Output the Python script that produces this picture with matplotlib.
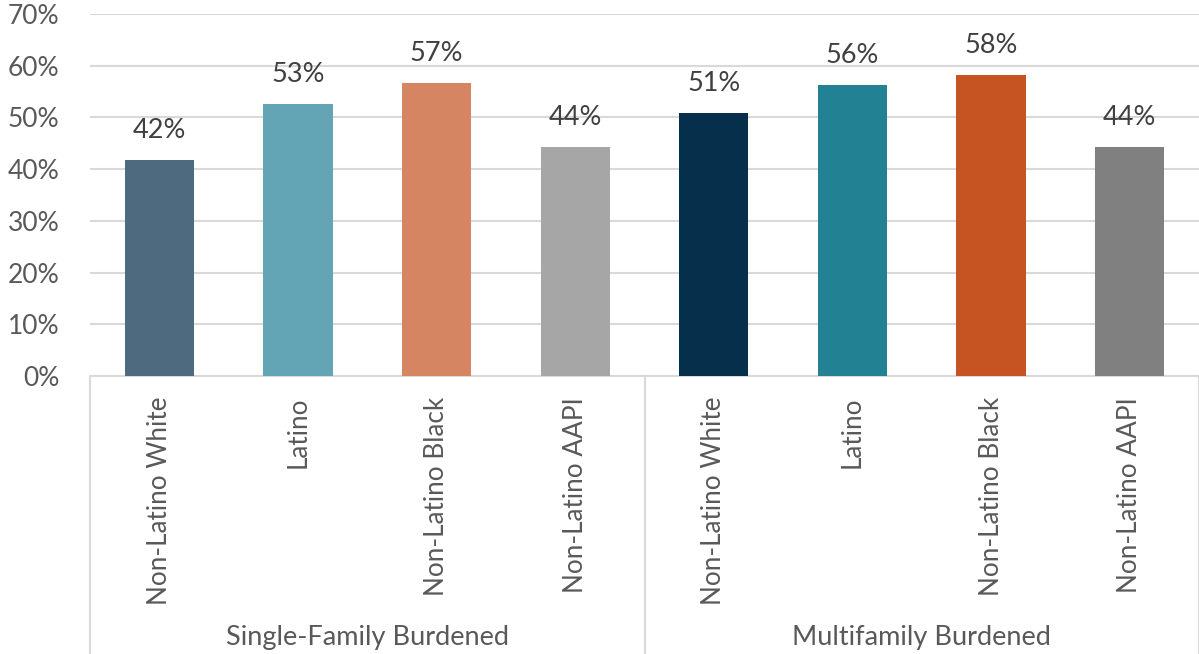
import matplotlib
matplotlib.use("Agg")
import matplotlib.pyplot as plt

plt.rcParams["font.family"] = ["Lato", "DejaVu Sans"]

# data
groups = ["Single-Family Burdened", "Multifamily Burdened"]
categories = ["Non-Latino White", "Latino", "Non-Latino Black", "Non-Latino AAPI"]
single_family = [41.8, 52.6, 56.7, 44.3]
multifamily = [50.9, 56.3, 58.2, 44.3]

SF_COLORS = ["#4D6A7F", "#63A5B5", "#D68563", "#A6A6A6"]
MF_COLORS = ["#062F4C", "#238194", "#C55422", "#808080"]
GRID = "#D9D9D9"
TICK = "#595959"
LABEL = "#404040"

values = single_family + multifamily
colors = SF_COLORS + MF_COLORS
labels = categories + categories
xs = list(range(len(values)))

fig = plt.figure(figsize=(11.99, 6.54), dpi=100)
ax = fig.add_axes([90 / 1199, 1 - 376 / 654, 1 - 90 / 1199, (376 - 14) / 654])

ax.set_axisbelow(True)
bars = ax.bar(xs, values, width=0.5, color=colors, zorder=3)
ax.bar_label(bars, labels=[f"{round(v)}%" for v in values], padding=12,
             fontsize=19.5, color=LABEL)

ax.set_xlim(-0.5, len(values) - 0.5)
ax.set_ylim(0, 70)
ax.set_yticks(range(0, 71, 10))
ax.set_yticklabels([f"{t}%" for t in range(0, 71, 10)], fontsize=19, color=TICK)
ax.yaxis.grid(True, color=GRID, lw=1.5)
ax.tick_params(axis="y", length=0, pad=22)

ax.set_xticks(xs)
ax.set_xticklabels(labels, rotation=90, fontsize=18.8, color=TICK)
ax.tick_params(axis="x", length=0, pad=15)

for s in ["top", "right", "left"]:
    ax.spines[s].set_visible(False)
ax.spines["bottom"].set_color(GRID)
ax.spines["bottom"].set_linewidth(1.5)

# group separators and labels (multi-level category axis)
bottom = -(654 - 376) / (376 - 14)
trans = ax.get_xaxis_transform()
for xv in [-0.5, 3.5, len(values) - 0.5]:
    ax.plot([xv, xv], [0, bottom], color=GRID, lw=1.5, transform=trans, clip_on=False)
n = len(categories)
for i, g in enumerate(groups):
    ax.text(i * n + (n - 1) / 2, -(637 - 376) / (376 - 14), g, transform=trans,
            ha="center", va="center", fontsize=19.5, color=TICK)

fig.savefig("out.png", dpi=100, facecolor="white")
